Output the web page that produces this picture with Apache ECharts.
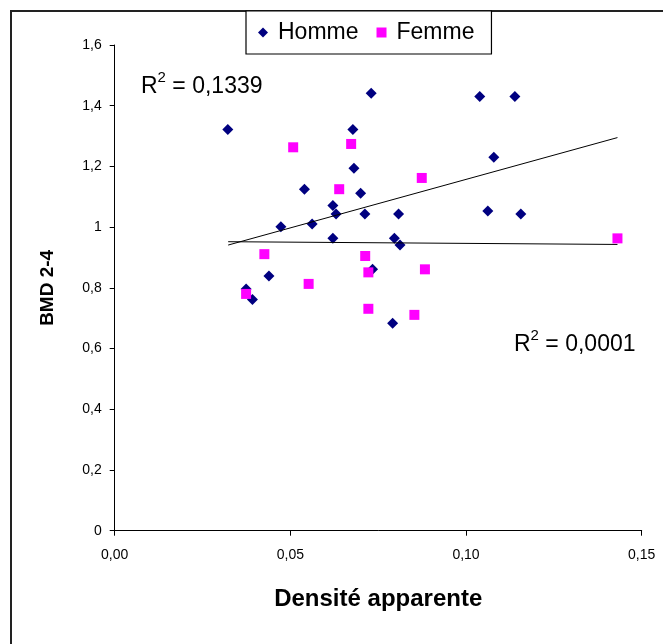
<!DOCTYPE html>
<html><head><meta charset="utf-8">
<script src="https://cdn.jsdelivr.net/npm/echarts@6/dist/echarts.min.js"></script>
<style>html,body{margin:0;padding:0;background:#fff}#c{width:663px;height:644px}</style>
</head><body><div id="c"></div>
<script>
// Homme (navy diamonds)
const hommeX = [0.0322,0.0730,0.0678,0.0681,0.0540,0.0700,0.0621,0.0630,0.0712,0.0808,0.0473,0.0562,0.0621,0.0796,0.0812,0.0734,0.0439,0.0374,0.0392,0.0791,0.1039,0.1139,0.1079,0.1062,0.1156];
const hommeY = [1.322,1.441,1.322,1.194,1.125,1.112,1.071,1.043,1.043,1.043,1.001,1.010,0.963,0.963,0.941,0.861,0.839,0.796,0.762,0.683,1.430,1.430,1.230,1.053,1.043];
// Femme (magenta squares)
const femmeX = [0.0508,0.0673,0.0639,0.0874,0.0426,0.0713,0.0722,0.0883,0.0552,0.0374,0.0722,0.0853,0.1431];
const femmeY = [1.263,1.274,1.125,1.162,0.911,0.905,0.851,0.861,0.813,0.780,0.731,0.711,0.963];
// Trend lines (end points)
const trend1X = [0.0323,0.1431];
const trend1Y = [0.941,1.295];
const trend2X = [0.0323,0.1431];
const trend2Y = [0.952,0.943];
const r2Labels = ['0,1339','0,0001'];
const seriesNames = ['Homme','Femme'];
const xAxisTitle = 'Densité apparente';
const yAxisTitle = 'BMD 2-4';

const zip = (xs, ys) => xs.map((x, i) => [x, ys[i]]);
const FONT = 'Liberation Sans, Arial, sans-serif';

const chart = echarts.init(document.getElementById('c'));
chart.setOption({
  animation: false,
  backgroundColor: '#fff',
  textStyle: { fontFamily: FONT },
  grid: { left: 114.7, right: 21.3, top: 45, bottom: 113.3 },
  legend: {
    left: 246, top: 11,
    padding: [10, 17, 10, 12],
    itemGap: 18,
    itemWidth: 10, itemHeight: 10,
    borderColor: '#000', borderWidth: 1.2,
    backgroundColor: '#fff',
    textStyle: { fontFamily: FONT, fontSize: 23, color: '#000', padding: [0, 0, 0, 5] },
    data: [
      { name: seriesNames[0], icon: 'diamond', itemStyle: { color: '#000080', opacity: 1 } },
      { name: seriesNames[1], icon: 'rect', itemStyle: { color: '#FF00FF', opacity: 1 } }
    ]
  },
  xAxis: {
    type: 'value', min: 0, max: 0.15, interval: 0.05,
    name: xAxisTitle, nameLocation: 'middle', nameGap: 57,
    nameTextStyle: { fontFamily: FONT, fontSize: 24, fontWeight: 'bold', color: '#000' },
    axisLine: { show: true, lineStyle: { color: '#000', width: 1 } },
    axisTick: { show: true, length: 5, lineStyle: { color: '#000' } },
    axisLabel: { fontFamily: FONT, fontSize: 14, color: '#000', margin: 17,
      formatter: v => v.toFixed(2).replace('.', ',') },
    splitLine: { show: false }
  },
  yAxis: {
    type: 'value', min: 0, max: 1.6, interval: 0.2,
    name: yAxisTitle, nameLocation: 'middle', nameGap: 57, nameRotate: 90,
    nameTextStyle: { fontFamily: FONT, fontSize: 19, fontWeight: 'bold', color: '#000' },
    axisLine: { show: true, lineStyle: { color: '#000', width: 1 } },
    axisTick: { show: true, length: 5, lineStyle: { color: '#000' } },
    axisLabel: { fontFamily: FONT, fontSize: 14, color: '#000', margin: 13,
      formatter: v => String(Math.round(v * 10) / 10).replace('.', ',') },
    splitLine: { show: false }
  },
  series: [
    { name: seriesNames[0], type: 'scatter', symbol: 'diamond', symbolSize: 11,
      itemStyle: { color: '#000080', opacity: 1 }, data: zip(hommeX, hommeY), z: 2 },
    { name: seriesNames[1], type: 'scatter', symbol: 'rect', symbolSize: 10,
      itemStyle: { color: '#FF00FF', opacity: 1 }, data: zip(femmeX, femmeY), z: 3 },
    { name: 'trend1', type: 'line', symbol: 'none', data: zip(trend1X, trend1Y),
      lineStyle: { color: '#000', width: 1 }, z: 4, silent: true },
    { name: 'trend2', type: 'line', symbol: 'none', data: zip(trend2X, trend2Y),
      lineStyle: { color: '#000', width: 1 }, z: 4, silent: true }
  ],
  graphic: [
    { type: 'rect', shape: { x: 11, y: 11, width: 800, height: 800 },
      style: { fill: 'none', stroke: '#222', lineWidth: 2 }, z: -1, silent: true },
    { type: 'text', left: 141, top: 70,
      style: { text: '{a|R}{b|2}{a| = ' + r2Labels[0] + '}',
        rich: { a: { fontSize: 23, fontFamily: FONT, fill: '#000', lineHeight: 28, verticalAlign: 'bottom' },
                b: { fontSize: 15, fontFamily: FONT, fill: '#000', lineHeight: 15, verticalAlign: 'top' } } } },
    { type: 'text', left: 514, top: 328,
      style: { text: '{a|R}{b|2}{a| = ' + r2Labels[1] + '}',
        rich: { a: { fontSize: 23, fontFamily: FONT, fill: '#000', lineHeight: 28, verticalAlign: 'bottom' },
                b: { fontSize: 15, fontFamily: FONT, fill: '#000', lineHeight: 15, verticalAlign: 'top' } } } }
  ]
});
</script></body></html>
